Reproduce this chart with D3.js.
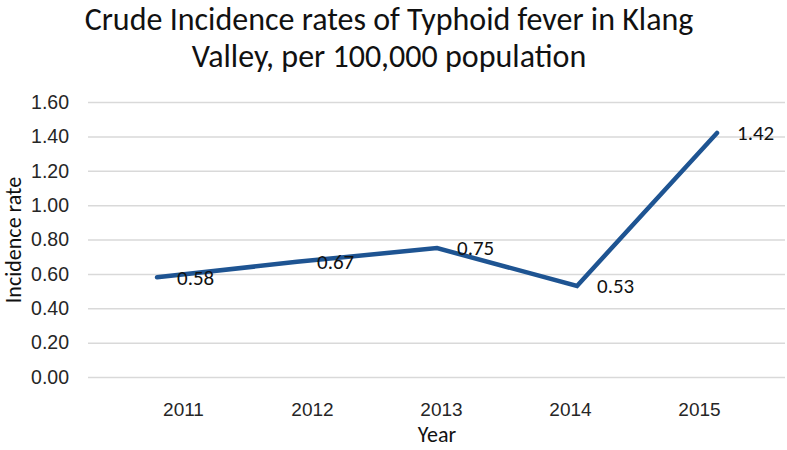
<!DOCTYPE html>
<html>
<head>
<meta charset="utf-8">
<script src="https://cdn.jsdelivr.net/npm/d3@7"></script>
<style>
  body { margin: 0; background: #fff; }
  svg { display: block; font-family: Carlito, Calibri, Lato, sans-serif; }
</style>
</head>
<body>
<svg id="chart"></svg>
<script>
const years = ["2011", "2012", "2013", "2014", "2015"];
const rates = [0.58, 0.67, 0.75, 0.53, 1.42];
const yTicks = [0, 0.2, 0.4, 0.6, 0.8, 1.0, 1.2, 1.4, 1.6];
const titleLines = ["Crude Incidence rates of Typhoid fever in Klang", "Valley, per 100,000 population"];

const width = 787;
const height = 450;
const data = years.map((d, i) => ({year: d, rate: rates[i]}));

const svg = d3.select("#chart")
    .attr("width", width)
    .attr("height", height);

// scales
const x = d3.scalePoint()
    .domain(years)
    .range([157, 717]);

// year labels sit a bit differently than the points in the picture
const xLabel = d3.scalePoint()
    .domain(years)
    .range([183, 699]);

const y = d3.scaleLinear()
    .domain([0, 1.6])
    .range([377, 102]);

// title
svg.append("g")
  .selectAll("text")
  .data(titleLines)
  .join("text")
    .attr("x", 389)
    .attr("y", (d, i) => 30 + i * 37)
    .attr("text-anchor", "middle")
    .attr("font-size", 32)
    .attr("fill", "#111")
    .text(d => d);

// y axis + grid
const yAxis = svg.append("g")
    .attr("transform", "translate(88,0)")
    .call(d3.axisLeft(y).tickValues(yTicks).tickFormat(d3.format(".2f")).tickSize(-697).tickPadding(19));

yAxis.select(".domain").remove();
yAxis.selectAll(".tick line")
    .attr("stroke", "#d9d9d9")
    .attr("stroke-width", 1.5);
yAxis.selectAll(".tick text")
    .attr("font-size", 19.5)
    .attr("font-family", null)
    .attr("fill", "#262626");

// x axis labels
const xAxis = svg.append("g")
    .attr("transform", "translate(0,377)")
    .call(d3.axisBottom(xLabel).tickSize(0).tickPadding(26));

xAxis.select(".domain").remove();
xAxis.selectAll(".tick text")
    .attr("font-size", 19)
    .attr("font-family", null)
    .attr("fill", "#262626");

// axis titles
svg.append("text")
    .attr("x", 437)
    .attr("y", 442)
    .attr("text-anchor", "middle")
    .attr("font-size", 22)
    .attr("fill", "#111")
    .text("Year");

svg.append("text")
    .attr("transform", "translate(21,240) rotate(-90)")
    .attr("text-anchor", "middle")
    .attr("font-size", 22)
    .attr("fill", "#111")
    .text("Incidence rate");

// the line
const line = d3.line()
    .x(d => x(d.year))
    .y(d => y(d.rate));

svg.append("path")
    .datum(data)
    .attr("fill", "none")
    .attr("stroke", "#1e5492")
    .attr("stroke-width", 4.5)
    .attr("stroke-linecap", "round")
    .attr("stroke-linejoin", "miter")
    .attr("d", line);

// data labels, to the right of each point
svg.append("g")
  .selectAll("text")
  .data(data)
  .join("text")
    .attr("x", d => x(d.year) + 20)
    .attr("y", d => y(d.rate))
    .attr("dy", "0.35em")
    .attr("font-size", 21)
    .attr("fill", "#111")
    .text(d => d3.format(".2f")(d.rate));
</script>
</body>
</html>
